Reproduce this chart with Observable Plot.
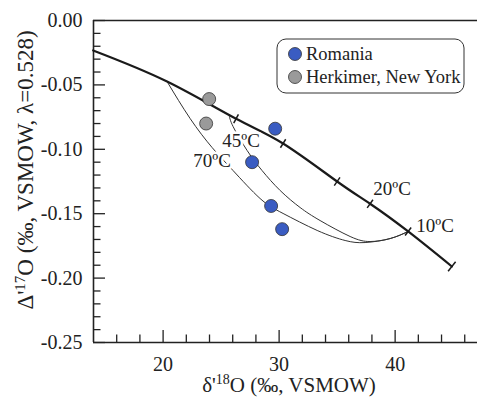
<!DOCTYPE html>
<html><head><meta charset="utf-8">
<script src="https://cdn.jsdelivr.net/npm/d3@7"></script>
<script src="https://cdn.jsdelivr.net/npm/@observablehq/plot@0.6"></script>
</head><body style="margin:0;background:#fff">
<div id="chart"></div>
<script>
// ---- data ----
const mainX = [13.97, 20.34, 26.29, 30.34, 35.0, 37.84, 41.12, 44.89];
const mainY = [-0.0233, -0.0474, -0.0763, -0.0955, -0.125, -0.1423, -0.1638, -0.191];
const mainTickIdx = [2, 3, 4, 5, 6, 7];

const mix70X = [20.34, 22.33, 24.22, 26.03, 28.36, 30.34, 33.28, 35.69, 37.41, 39.57, 41.12];
const mix70Y = [-0.0474, -0.0761, -0.0986, -0.1165, -0.1382, -0.1498, -0.1630, -0.1708, -0.1724, -0.1693, -0.1638];
const mix45X = [25.69, 26.03, 27.24, 28.53, 30.09, 31.81, 33.53, 36.12, 37.84, 39.57, 41.12];
const mix45Y = [-0.0730, -0.0823, -0.1009, -0.1165, -0.1320, -0.1452, -0.1553, -0.1677, -0.1716, -0.1693, -0.1638];

const romaniaX = [29.66, 27.67, 29.31, 30.26];
const romaniaY = [-0.084, -0.110, -0.144, -0.162];
const herkimerX = [23.97, 23.71];
const herkimerY = [-0.061, -0.080];

const labelText = ["45ºC", "70ºC", "20ºC", "10ºC"];
const labelX = [26.72, 24.22, 39.74, 43.45];
const labelY = [-0.0932, -0.1087, -0.1304, -0.1592];
const labelItalic = [true, true, false, false];

const yMajor = [0, -0.05, -0.10, -0.15, -0.20, -0.25];
const yMinor = d3.range(0, 26).map(i => -i / 100).filter(v => Math.round(-v * 100) % 5 !== 0);
const xMajor = [20, 30, 40];
const xMinor = [16, 18, 22, 24, 26, 28, 32, 34, 36, 38, 42, 44, 46];

const legendNames = ["Romania", "Herkimer, New York"];
const blue = "#3a5cc2", grey = "#9a9a9a";

// ---- layout ----
const W = 477, H = 402, mL = 93, mR = 0, mT = 20, mB = 60;
const xDom = [14, 47.1], yDom = [-0.25, 0];
const kx = (W - mL - mR) / (xDom[1] - xDom[0]);
const ky = (H - mT - mB) / (yDom[1] - yDom[0]);

const zip = (xs, ys) => xs.map((x, i) => ({x, y: ys[i]}));
const main = zip(mainX, mainY);
const mix70 = zip(mix70X, mix70Y);
const mix45 = zip(mix45X, mix45Y);

function perp(i, h) {
  const a = main[Math.max(0, i - 1)], b = main[Math.min(main.length - 1, i + 1)];
  let dx = (b.x - a.x) * kx, dy = -(b.y - a.y) * ky;
  const n = Math.hypot(dx, dy); dx /= n; dy /= n;
  const px = -dy * h, py = dx * h;
  const p = main[i];
  return {x1: p.x + px / kx, y1: p.y - py / ky, x2: p.x - px / kx, y2: p.y + py / ky};
}
const curveTicks = mainTickIdx.map(i => perp(i, i === main.length - 1 ? 6 : 5));

const labels = labelText.map((t, i) => ({t, x: labelX[i], y: labelY[i], it: labelItalic[i]}));
const pts = [
  ...zip(herkimerX, herkimerY).map(d => ({...d, c: grey})),
  ...zip(romaniaX, romaniaY).map(d => ({...d, c: blue}))
];

const FF = "Liberation Serif";

const svg = Plot.plot({
  width: W, height: H,
  marginLeft: mL, marginRight: mR, marginTop: mT, marginBottom: mB,
  x: {domain: xDom, axis: null},
  y: {domain: yDom, axis: null},
  style: {fontFamily: FF, fontSize: "20px"},
  marks: [
    Plot.ruleX([xDom[0]], {stroke: "#222", strokeWidth: 1.6}),
    Plot.ruleY([yDom[0], yDom[1]], {stroke: "#222", strokeWidth: 1.6}),
    Plot.ruleY(yMajor, {x1: xDom[0], x2: xDom[0] + 12 / kx, stroke: "#222", strokeWidth: 1.3}),
    Plot.ruleY(yMinor, {x1: xDom[0], x2: xDom[0] + 7.5 / kx, stroke: "#222", strokeWidth: 1.3}),
    Plot.ruleX(xMajor, {y1: yDom[0], y2: yDom[0] + 12 / ky, stroke: "#222", strokeWidth: 1.3}),
    Plot.ruleX(xMinor, {y1: yDom[0], y2: yDom[0] + 7.5 / ky, stroke: "#222", strokeWidth: 1.3}),
    Plot.text(yMajor, {x: xDom[0], y: d => d, text: d => (d === 0 ? "0.00" : d.toFixed(2)), textAnchor: "end", dx: -11, fontSize: 20, fontFamily: FF, fill: "#222"}),
    Plot.text(xMajor, {x: d => d, y: yDom[0], text: d => String(d), dy: 22, fontSize: 20, fontFamily: FF, fill: "#222"}),
    Plot.line(mix70, {x: "x", y: "y", curve: "natural", stroke: "#333", strokeWidth: 1}),
    Plot.line(mix45, {x: "x", y: "y", curve: "natural", stroke: "#333", strokeWidth: 1}),
    Plot.line(main, {x: "x", y: "y", curve: "natural", stroke: "#1a1a1a", strokeWidth: 2.2}),
    Plot.link(curveTicks, {x1: "x1", y1: "y1", x2: "x2", y2: "y2", stroke: "#1a1a1a", strokeWidth: 1.5}),
    Plot.text(labels, {x: "x", y: "y", text: "t", fontSize: 19, fontFamily: FF, fontStyle: d => d.it ? "italic" : "normal", fill: "#222", stroke: d => d.it ? "white" : "none", strokeWidth: 5}),
    Plot.dot(pts, {x: "x", y: "y", r: 6.5, fill: "c", stroke: "#333", strokeWidth: 0.8})
  ]
});

const s = d3.select(svg);
const xt = s.append("text").attr("x", 289).attr("y", 392).attr("text-anchor", "middle")
  .attr("font-size", 21).attr("font-family", FF).attr("fill", "#222");
xt.append("tspan").text("δ'");
xt.append("tspan").attr("font-size", 14).attr("dy", -8).text("18");
xt.append("tspan").attr("dy", 8).text("O (‰, VSMOW)");

const yt = s.append("text").attr("transform", "translate(33,170) rotate(-90)").attr("text-anchor", "middle")
  .attr("font-size", 23).attr("font-family", FF).attr("fill", "#222");
yt.append("tspan").text("Δ'");
yt.append("tspan").attr("font-size", 15).attr("dy", -8).text("17");
yt.append("tspan").attr("dy", 8).text("O (‰, VSMOW, λ=0.528)");

const lg = s.append("g");
lg.append("rect").attr("x", 277).attr("y", 39).attr("width", 187).attr("height", 54).attr("rx", 9)
  .attr("fill", "white").attr("stroke", "#333").attr("stroke-width", 1);
[blue, grey].forEach((c, i) => {
  lg.append("circle").attr("cx", 295).attr("cy", 54 + i * 23).attr("r", 6.5).attr("fill", c).attr("stroke", "#333").attr("stroke-width", 0.8);
  lg.append("text").attr("x", 306).attr("y", 54 + i * 23).attr("dy", "0.35em").attr("text-anchor", "start")
    .attr("font-size", 18.5).attr("font-family", FF).attr("fill", "#222").text(legendNames[i]);
});

document.getElementById("chart").appendChild(svg);
</script>
</body></html>
